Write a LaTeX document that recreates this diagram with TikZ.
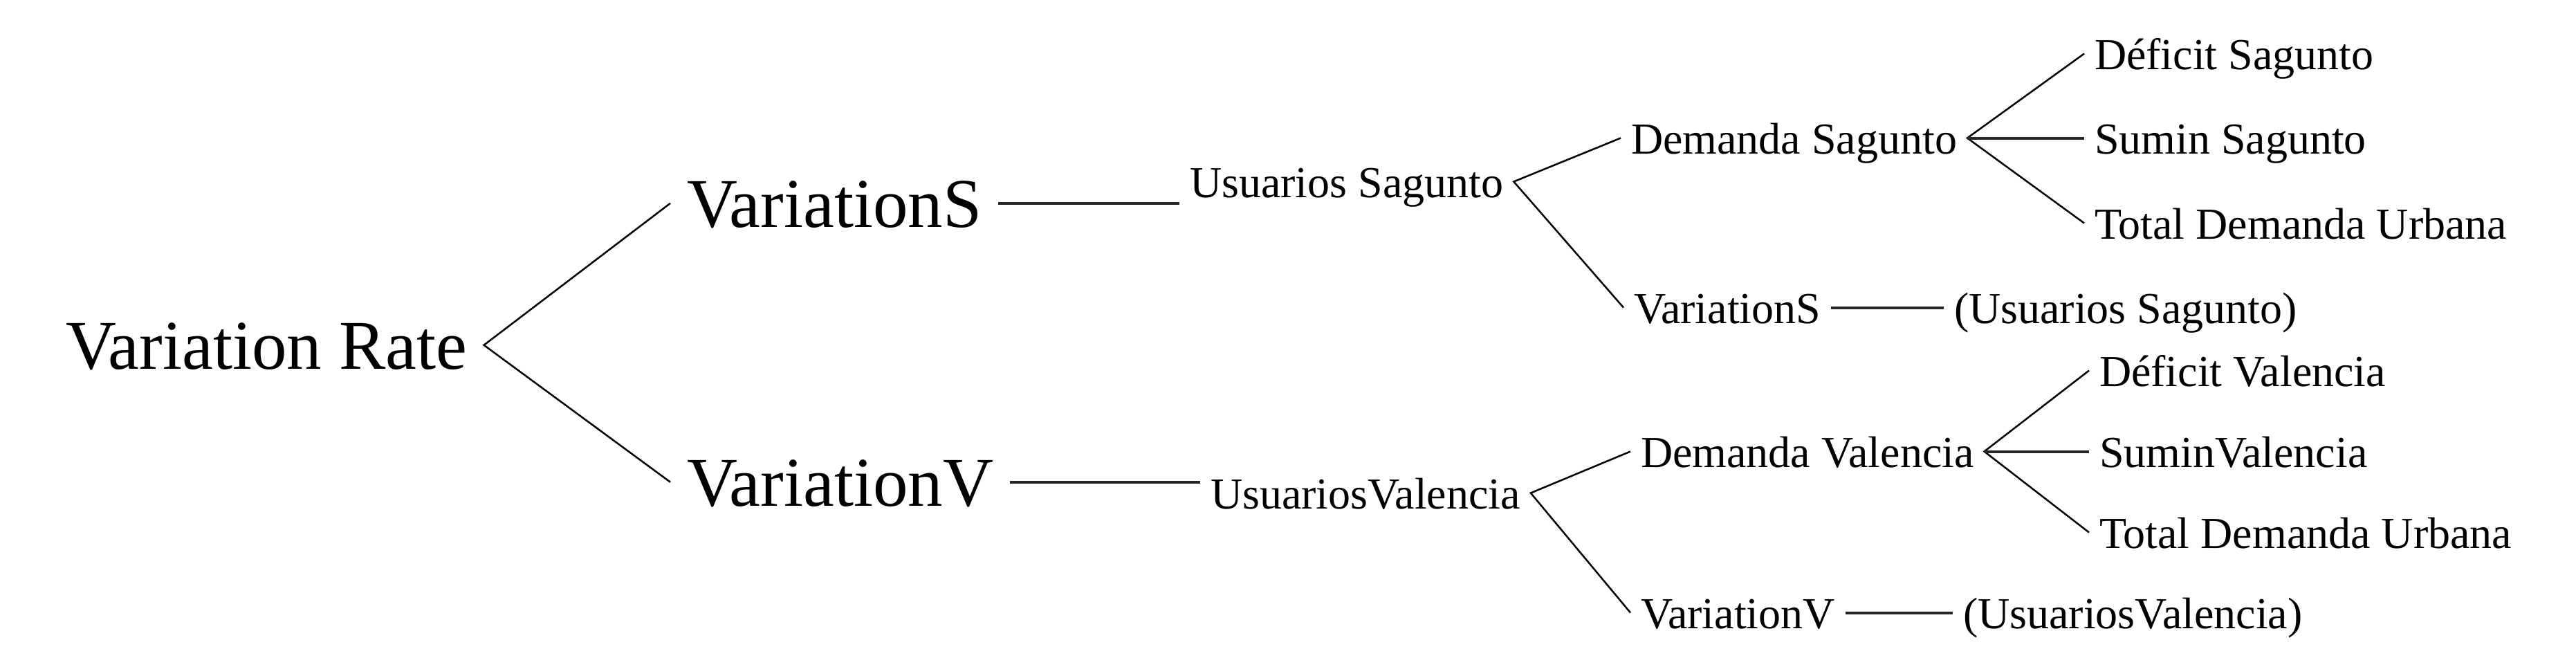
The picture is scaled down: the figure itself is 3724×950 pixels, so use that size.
\documentclass[tikz,border=0pt]{standalone}
\usepackage{fontspec}
\setmainfont{Liberation Serif}
\begin{document}
\begin{tikzpicture}[x=0.2pt,y=-0.2pt,
  big/.style={font=\fontsize{20.2}{24}\selectfont, inner sep=0pt, outer sep=4.8pt, anchor=base west, text height=13.7pt, text depth=0pt},
  small/.style={font=\fontsize{12.8}{15}\selectfont, inner sep=0pt, outer sep=3pt, anchor=base west, text height=9pt, text depth=0pt},
  conn/.style={line width=0.5pt, black},
  hconn/.style={line width=0.8pt, black!85}]
\useasboundingbox[fill=white] (0,0) rectangle (3724,950);
% level 0-1
\node[big] (vr) at (71,533) {Variation Rate};
\node[big] (vs) at (969,328) {VariationS};
\node[big] (vv) at (969,731) {VariationV};
% level 2
\node[small] (us) at (1705,285) {Usuarios Sagunto};
\node[small] (uv) at (1735,735) {UsuariosValencia};
% Sagunto branch
\node[small] (ds) at (2343,222) {Demanda Sagunto};
\node[small] (vs2) at (2347,467) {VariationS};
\node[small] (pus) at (2810,467) {(Usuarios Sagunto)};
\node[small] (defs) at (3013,100) {Déficit Sagunto};
\node[small] (sums) at (3013,222) {Sumin Sagunto};
\node[small] (tots) at (3013,345) {Total Demanda Urbana};
% Valencia branch
\node[small] (dv) at (2357,675) {Demanda Valencia};
\node[small] (vv2) at (2357,908) {VariationV};
\node[small] (puv) at (2823,908) {(UsuariosValencia)};
\node[small] (defv) at (3020,558) {Déficit Valencia};
\node[small] (sumv) at (3020,675) {SuminValencia};
\node[small] (totv) at (3020,792) {Total Demanda Urbana};
% connectors
\draw[conn] (vs.west) -- (vr.east) -- (vv.west);
\draw[hconn] (vs.east) -- (vs.east -| us.west);
\draw[hconn] (vv.east) -- (vv.east -| uv.west);
\draw[conn] (ds.west) -- (us.east) -- (vs2.west);
\draw[conn] (dv.west) -- (uv.east) -- (vv2.west);
\draw[hconn] (vs2.east) -- (pus.west);
\draw[hconn] (vv2.east) -- (puv.west);
\draw[conn] (defs.west) -- (ds.east) -- (tots.west);
\draw[hconn] (ds.east) -- (sums.west);
\draw[conn] (defv.west) -- (dv.east) -- (totv.west);
\draw[hconn] (dv.east) -- (sumv.west);
\end{tikzpicture}
\end{document}
